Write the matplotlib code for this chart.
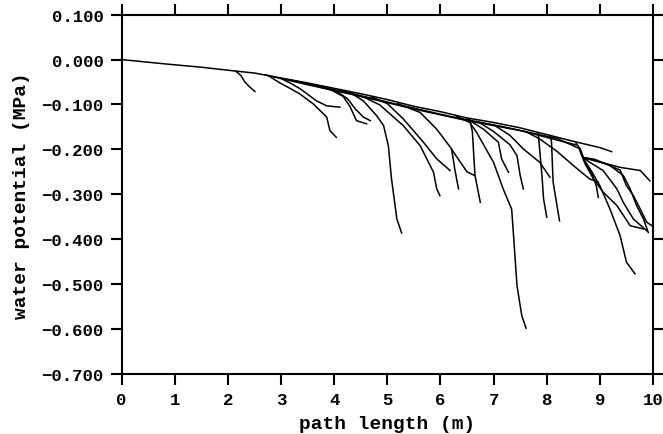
import matplotlib
matplotlib.use("Agg")
import matplotlib.pyplot as plt
from matplotlib.ticker import FixedLocator, FixedFormatter

# main path from the base (x = path length in m, y = water potential in MPa)
trunk = [(0.0, 0.0), (0.85, -0.010), (1.5, -0.017), (2.1, -0.025), (2.5, -0.030),
         (3.0, -0.041), (3.5, -0.052), (4.0, -0.064), (4.5, -0.076), (5.0, -0.089),
         (5.5, -0.104), (6.0, -0.116), (6.5, -0.130), (7.0, -0.140), (7.5, -0.152),
         (8.0, -0.167), (8.5, -0.182), (9.0, -0.196), (9.22, -0.205)]

# paths running just under the main one (the thick bundle)
near_1 = [(2.7, -0.034), (3.5, -0.056), (4.5, -0.082), (5.5, -0.110), (6.5, -0.136),
          (7.5, -0.158), (8.55, -0.190)]
near_2 = [(3.2, -0.046), (4.2, -0.072), (5.2, -0.100), (6.2, -0.127), (7.2, -0.150),
          (8.2, -0.176), (8.63, -0.199)]

# side branches
br_a = [(2.15, -0.026), (2.25, -0.036), (2.32, -0.050), (2.42, -0.062), (2.51, -0.071)]
br_b = [(2.75, -0.035), (2.98, -0.052), (3.2, -0.066), (3.36, -0.077), (3.61, -0.099),
        (3.86, -0.128), (3.92, -0.158), (4.04, -0.173)]
br_c = [(3.0, -0.042), (3.2, -0.054), (3.36, -0.065), (3.67, -0.092), (3.86, -0.103),
        (4.11, -0.106)]
br_d = [(3.7, -0.060), (3.95, -0.068), (4.17, -0.082), (4.30, -0.105), (4.42, -0.136),
        (4.61, -0.143)]
br_e = [(3.8, -0.062), (4.05, -0.071), (4.25, -0.087), (4.40, -0.110), (4.55, -0.128),
        (4.68, -0.136)]
br_f = [(4.1, -0.068), (4.35, -0.077), (4.55, -0.092), (4.80, -0.125), (4.93, -0.147),
        (5.02, -0.192), (5.08, -0.266), (5.18, -0.355), (5.27, -0.386)]
br_g = [(4.3, -0.074), (4.6, -0.086), (4.86, -0.101), (5.30, -0.147), (5.62, -0.192),
        (5.87, -0.251), (5.93, -0.288), (5.99, -0.303)]
br_h = [(4.7, -0.083), (5.0, -0.098), (5.30, -0.132), (5.68, -0.184), (5.93, -0.221),
        (6.18, -0.247)]
br_i = [(5.2, -0.098), (5.62, -0.118), (5.93, -0.155), (6.21, -0.199), (6.27, -0.244),
        (6.34, -0.288)]
br_j = [(6.55, -0.132), (6.60, -0.160), (6.65, -0.258), (6.75, -0.318)]
br_k = [(6.21, -0.200), (6.28, -0.212), (6.50, -0.250), (6.64, -0.258)]
br_l = [(6.3, -0.126), (6.55, -0.140), (6.68, -0.162), (7.0, -0.229), (7.18, -0.288),
        (7.34, -0.333), (7.38, -0.400), (7.44, -0.503), (7.53, -0.570), (7.61, -0.598)]
br_m = [(6.5, -0.132), (6.81, -0.155), (7.09, -0.184), (7.15, -0.221), (7.28, -0.251)]
br_n = [(6.7, -0.138), (7.0, -0.160), (7.31, -0.190), (7.44, -0.214), (7.50, -0.258),
        (7.56, -0.288)]
br_o = [(7.84, -0.165), (7.91, -0.258), (7.94, -0.310), (8.0, -0.351)]
br_p = [(8.07, -0.172), (8.09, -0.184), (8.12, -0.273), (8.24, -0.359)]
br_q = [(7.0, -0.145), (7.31, -0.169), (7.56, -0.199), (7.87, -0.229), (8.06, -0.262)]
br_r = [(8.55, -0.186), (8.63, -0.199), (8.69, -0.218), (9.0, -0.228), (9.38, -0.240),
        (9.76, -0.247), (9.94, -0.270)]
br_s = [(8.6, -0.195), (8.7, -0.222), (8.85, -0.250), (9.00, -0.281), (9.19, -0.333),
        (9.38, -0.392), (9.50, -0.451), (9.66, -0.477)]
br_t = [(8.63, -0.205), (8.69, -0.221), (8.85, -0.255), (8.93, -0.280), (8.97, -0.307)]
br_u = [(8.69, -0.218), (8.9, -0.222), (9.19, -0.236), (9.44, -0.258), (9.57, -0.288),
        (9.69, -0.325), (9.82, -0.355), (9.91, -0.385)]
br_v = [(8.69, -0.218), (8.80, -0.228), (9.06, -0.247), (9.32, -0.288), (9.44, -0.318),
        (9.63, -0.355), (9.88, -0.381)]
br_w = [(8.69, -0.218), (9.1, -0.232), (9.38, -0.246), (9.50, -0.281), (9.63, -0.303),
        (9.76, -0.333), (9.88, -0.362), (9.98, -0.370)]
br_x = [(8.65, -0.210), (8.72, -0.232), (8.88, -0.266), (9.06, -0.295), (9.32, -0.325),
        (9.57, -0.370), (9.82, -0.377)]
br_y = [(7.6, -0.160), (7.87, -0.177), (8.2, -0.205), (8.5, -0.236), (8.81, -0.266),
        (8.97, -0.273)]

x_ticks = [0, 1, 2, 3, 4, 5, 6, 7, 8, 9, 10]
y_ticks = [0.1, 0.0, -0.1, -0.2, -0.3, -0.4, -0.5, -0.6, -0.7]
y_labels = ["0.100", "0.000", "\u22120.100", "\u22120.200", "\u22120.300",
            "\u22120.400", "\u22120.500", "\u22120.600", "\u22120.700"]

plt.rcParams.update({
    "font.family": ["Liberation Mono", "DejaVu Sans Mono"],
    "font.weight": "bold",
})

fig = plt.figure(figsize=(6.63, 4.35), dpi=100)
ax = fig.add_axes([0.1833, 0.138, 0.8017, 0.826])

paths = [trunk, near_1, near_2, br_a, br_b, br_c, br_d, br_e, br_f, br_g, br_h, br_i,
         br_j, br_k, br_l, br_m, br_n, br_o, br_p, br_q, br_r, br_s, br_t, br_u, br_v,
         br_w, br_x, br_y]
for path in paths:
    xs = [p[0] for p in path]
    ys = [p[1] for p in path]
    ax.plot(xs, ys, color="black", lw=1.1)

ax.set_xlim(0, 10)
ax.set_ylim(-0.7, 0.1)
ax.xaxis.set_major_locator(FixedLocator(x_ticks))
ax.yaxis.set_major_locator(FixedLocator(y_ticks))
ax.yaxis.set_major_formatter(FixedFormatter(y_labels))
ax.tick_params(direction="out", length=8, width=1.5, labelsize=12.5,
               top=True, right=True, labeltop=False, labelright=False, pad=5)
for s in ax.spines.values():
    s.set_linewidth(1.5)

ax.set_xlabel("path length (m)", fontsize=14, fontweight="bold", labelpad=6)
ax.set_ylabel("water potential (MPa)", fontsize=14, fontweight="bold", labelpad=8)

fig.savefig("out.png", dpi=100, facecolor="white")
